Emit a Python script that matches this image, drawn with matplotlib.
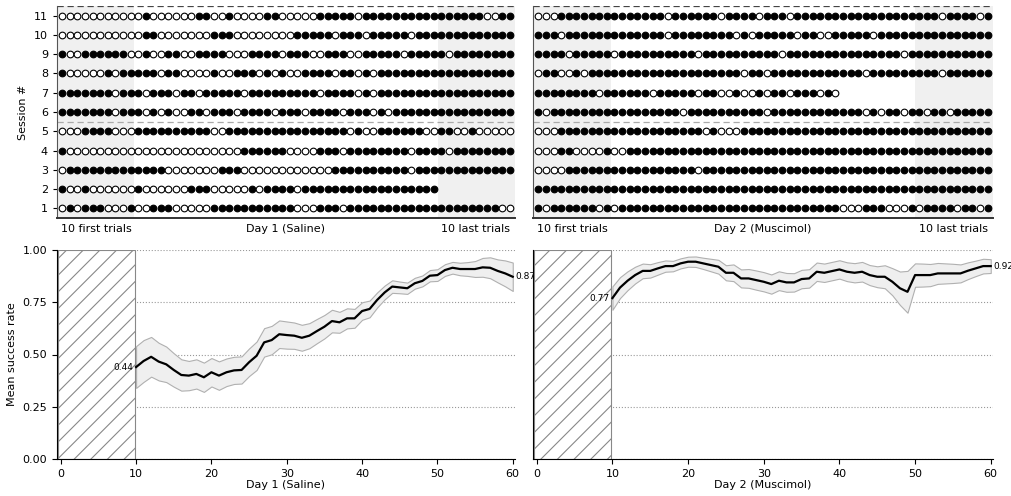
import numpy as np
import matplotlib
matplotlib.use('Agg')
import matplotlib.pyplot as plt
from matplotlib.patches import Rectangle

# resultado de cada ensayo por sesion (1 = exito, 0 = fallo), sesiones 1..11
sesiones = list(range(1, 12))
dia1 = [
    "01011100010011100000" "11111111111000111011" "11111111111111111100",
    "10010000001000000111" "00000101111011111111" "1111111111",
    "01111111111111000000" "01110000000000001111" "11111101111111111111",
    "10000000000000000000" "00001111110000111011" "11111101111011111111",
    "00011110001111111111" "00111111111111111101" "00111111001100100000",
    "11111110111010100110" "11101111011101111011" "10101111111111111111",
    "11111110111011101101" "11110111111111011110" "10111111111111111111",
    "10000010111110110000" "10011101010011110110" "10111111111111111111",
    "10011111100100110011" "11000111101110011100" "11111011111011111111",
    "00000000000110000000" "11100000000111110111" "01111101111111111111",
    "00000000000100000011" "00100001100000111110" "11111111111111110011",
]
dia2 = [
    "10111111010111111111" "11111111111111111111" "00011100010111101101",
    "11111111111111111111" "11111111111111111111" "11111111111111111111",
    "00001111111111111111" "10111111111111111111" "11111111111111111111",
    "00011000010011111111" "11111111111111111111" "11111111111111111111",
    "00011111111111111111" "11010001111111111111" "11111111111111111111",
    "10111111111111111110" "11111111110111111111" "11101011011011011111",
    "11111111011111101111" "10110010010110111010",
    "01100101111111111111" "11111110110111111111" "11101111111110111111",
    "11110111110111111111" "10111111111101111111" "11111111011111111111",
    "11101111111111111011" "11111101011111011001" "11110111111111111111",
    "00011111111111111011" "11110111101110111111" "11111111111110111101",
]

# tasa media de exito (ventana de 10 ensayos), ensayos 10..60
x_curva = list(range(10, 61))
media_dia1 = [0.44, 0.469, 0.489, 0.466, 0.453, 0.426, 0.402, 0.399, 0.407, 0.391,
              0.415, 0.399, 0.415, 0.424, 0.426, 0.463, 0.494, 0.558, 0.569, 0.597,
              0.593, 0.590, 0.580, 0.590, 0.612, 0.633, 0.660, 0.654, 0.673, 0.673,
              0.708, 0.718, 0.761, 0.797, 0.825, 0.821, 0.817, 0.841, 0.852, 0.877,
              0.880, 0.904, 0.915, 0.909, 0.909, 0.909, 0.917, 0.915, 0.900, 0.888, 0.872]
err_dia1 = [0.10, 0.10, 0.095, 0.09, 0.085, 0.08, 0.075, 0.07, 0.07, 0.07,
            0.068, 0.068, 0.066, 0.065, 0.065, 0.066, 0.068, 0.068, 0.068, 0.066,
            0.065, 0.063, 0.062, 0.06, 0.058, 0.056, 0.054, 0.05, 0.048, 0.045,
            0.042, 0.04, 0.036, 0.033, 0.03, 0.028, 0.027, 0.026, 0.026, 0.027,
            0.028, 0.028, 0.028, 0.03, 0.033, 0.038, 0.045, 0.05, 0.055, 0.062, 0.068]
media_dia2 = [0.77, 0.820, 0.853, 0.880, 0.900, 0.900, 0.912, 0.923, 0.923, 0.936,
              0.944, 0.944, 0.936, 0.928, 0.920, 0.891, 0.891, 0.864, 0.864, 0.856,
              0.848, 0.837, 0.853, 0.845, 0.845, 0.861, 0.864, 0.896, 0.891, 0.899,
              0.907, 0.896, 0.891, 0.896, 0.880, 0.872, 0.872, 0.848, 0.817, 0.800,
              0.880, 0.880, 0.880, 0.888, 0.888, 0.888, 0.888, 0.901, 0.912, 0.923, 0.923]
err_dia2 = [0.056, 0.05, 0.045, 0.04, 0.035, 0.032, 0.03, 0.027, 0.025, 0.024,
            0.024, 0.025, 0.027, 0.03, 0.033, 0.036, 0.04, 0.043, 0.045, 0.046,
            0.046, 0.046, 0.045, 0.045, 0.044, 0.044, 0.044, 0.044, 0.044, 0.044,
            0.044, 0.045, 0.046, 0.047, 0.048, 0.05, 0.055, 0.065, 0.08, 0.10,
            0.056, 0.055, 0.053, 0.05, 0.048, 0.046, 0.043, 0.04, 0.037, 0.035, 0.033]

etiquetas_dia = ['Day 1 (Saline)', 'Day 2 (Muscimol)']

plt.rcParams['font.family'] = 'DejaVu Sans'
plt.rcParams['font.size'] = 8
plt.rcParams['hatch.linewidth'] = 0.8

fig = plt.figure(figsize=(10.12, 4.96), dpi=100)
W, H = 1012, 496


def caja(x0, x1, y0, y1):
    # pixeles -> coordenadas de figura
    return [x0 / W, 1 - y1 / H, (x1 - x0) / W, (y1 - y0) / H]


gris = '#f0f0f0'

#### ARRIBA: ensayos por sesion ####
for k, (datos, nombre) in enumerate(zip([dia1, dia2], etiquetas_dia)):
    x0 = 57 if k == 0 else 533
    x1 = 515 if k == 0 else 993
    ax = fig.add_axes(caja(x0, x1, 6, 218))
    xmin, xmax = 0.3, 60.7
    ax.axvspan(xmin, 10.5, color=gris, lw=0, zorder=0)
    ax.axvspan(50.5, xmax, color=gris, lw=0, zorder=0)
    for s, fila in zip(sesiones, datos):
        v = np.array([int(c) for c in fila])
        t = np.arange(1, len(v) + 1)
        ax.scatter(t[v == 1], np.full((v == 1).sum(), s), s=23, c='black',
                   edgecolors='black', linewidths=0.8, zorder=3)
        ax.scatter(t[v == 0], np.full((v == 0).sum(), s), s=23, c='white',
                   edgecolors='black', linewidths=0.8, zorder=3)
    ax.axhline(11.5, ls=(0, (5, 3)), color='#444444', lw=0.9, zorder=2)
    ax.axhline(5.5, ls=(0, (5, 3)), color='#aaaaaa', lw=0.9, zorder=2)
    ax.set_xlim(xmin, xmax)
    ax.set_ylim(0.5, 11.5)
    ax.set_xticks([5.5, 30.5, 55.5])
    ax.set_xticklabels(['10 first trials', nombre, '10 last trials'])
    ax.tick_params(axis='x', length=0, pad=4)
    for lado in ['top', 'right']:
        ax.spines[lado].set_visible(False)
    ax.spines['left'].set_color('#555555')
    ax.spines['bottom'].set_color('#333333')
    ax.spines['bottom'].set_linewidth(1.4)
    ax.set_yticks(sesiones)
    if k == 0:
        ax.set_ylabel('Session #')
        ax.tick_params(axis='y', length=3)
    else:
        ax.set_yticks([])

#### ABAJO: tasa media de exito ####
curvas = [(media_dia1, err_dia1), (media_dia2, err_dia2)]
for k, ((m, e), nombre) in enumerate(zip(curvas, etiquetas_dia)):
    x0 = 57 if k == 0 else 533
    x1 = 515 if k == 0 else 993
    ax = fig.add_axes(caja(x0, x1, 250, 459))
    m = np.array(m)
    e = np.array(e)
    ax.add_patch(Rectangle((-0.4, 0), 10.2, 1, facecolor='white', edgecolor='#888888',
                           hatch='//', lw=0.8, zorder=2))
    ax.fill_between(x_curva, m - e, m + e, facecolor='#efefef', edgecolor='#b0b0b0',
                    lw=0.8, zorder=2)
    ax.plot(x_curva, m, color='black', lw=1.6, zorder=3)
    ax.text(x_curva[0] - 0.4, m[0], f'{m[0]:.2f}', ha='right', va='center', fontsize=6.5)
    ax.text(x_curva[-1] + 0.3, m[-1], f'{m[-1]:.2f}', ha='left', va='center',
            fontsize=6.5, clip_on=False)
    ax.set_xlim(-0.5, 60.3)
    ax.set_ylim(0, 1.0)
    ax.set_xticks(range(0, 61, 10))
    ax.set_yticks([0, 0.25, 0.5, 0.75, 1.0])
    ax.yaxis.grid(True, ls=':', color='#999999', lw=0.8)
    ax.set_axisbelow(True)
    for lado in ['top', 'right']:
        ax.spines[lado].set_visible(False)
    ax.set_xlabel(nombre, labelpad=1)
    if k == 0:
        ax.set_yticklabels(['0.00', '0.25', '0.50', '0.75', '1.00'])
        ax.set_ylabel('Mean success rate')
    else:
        ax.set_yticklabels([])
        ax.tick_params(axis='y', length=0)

plt.savefig('out.png', dpi=100)
